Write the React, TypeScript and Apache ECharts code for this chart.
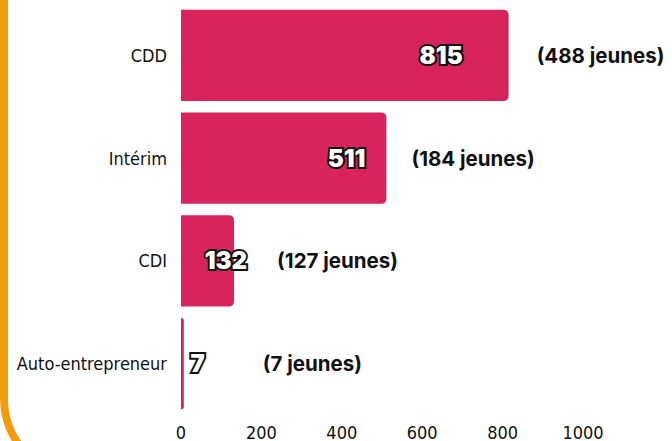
import React, { useEffect, useRef } from "react";
import * as echarts from "echarts";

const categories = ["CDD", "Intérim", "CDI", "Auto-entrepreneur"];
const contrats = [815, 511, 132, 7];
const jeunes = [488, 184, 127, 7];
const xTicks = [0, 200, 400, 600, 800, 1000];

// label offsets (style only)
const valueOffsets = [-41, -16, 18, 26];
const jeunesOffsets = [23, 20, 38, 74];

const condensed = '"Liberation Sans Narrow", "DejaVu Sans Condensed", "Roboto", sans-serif';

export default function App() {
  const ref = useRef<HTMLDivElement>(null);
  useEffect(() => {
    if (!ref.current) return;
    const chart = echarts.init(ref.current, undefined, { renderer: "svg" });
    chart.setOption({
      animation: false,
      backgroundColor: "#ffffff",
      graphic: [
        {
          type: "rect",
          silent: true,
          z: -10,
          shape: { x: 4, y: -100, width: 760, height: 578, r: 80 },
          style: { fill: "none", stroke: "#f39c0c", lineWidth: 8 },
        },
      ],
      grid: { left: 181, right: 89, top: 4, bottom: 23, containLabel: false },
      xAxis: {
        type: "value",
        min: xTicks[0],
        max: xTicks[xTicks.length - 1],
        interval: 200,
        axisLine: { show: false },
        axisTick: { show: false },
        splitLine: { show: false },
        axisLabel: {
          margin: 8,
          fontFamily: condensed,
          fontSize: 18,
          fontWeight: 500,
          color: "#111111",
          formatter: (v: number) => String(v),
        },
      },
      yAxis: {
        type: "category",
        data: categories,
        inverse: true,
        axisLine: { show: false },
        axisTick: { show: false },
        axisLabel: {
          margin: 14,
          fontFamily: condensed,
          fontSize: 18,
          fontWeight: 500,
          color: "#111111",
        },
      },
      series: [
        {
          type: "bar",
          barWidth: "89%",
          z: 2,
          data: contrats.map((v, i) => ({
            value: v,
            label: { offset: [valueOffsets[i], 0] },
          })),
          itemStyle: { color: "#d8235c", borderRadius: [0, 5, 5, 0] },
          label: {
            show: true,
            position: "insideRight",
            fontFamily: "Inter, sans-serif",
            fontWeight: 900,
            fontSize: 24,
            color: "#ffffff",
            textBorderColor: "#111111",
            textBorderWidth: 4,
          },
        },
        {
          type: "bar",
          barWidth: "89%",
          barGap: "-100%",
          z: 3,
          silent: true,
          data: contrats.map((v, i) => ({
            value: v,
            label: { offset: [jeunesOffsets[i], 0], formatter: `(${jeunes[i]} jeunes)` },
          })),
          itemStyle: { color: "rgba(0,0,0,0)" },
          label: {
            show: true,
            position: "right",
            fontFamily: "Inter, sans-serif",
            fontWeight: 700,
            fontSize: 20.5,
            color: "#111111",
          },
        },
      ],
    });
    return () => chart.dispose();
  }, []);
  return <div ref={ref} style={{ width: 672, height: 441, position: "fixed", left: 0, top: 0 }} />;
}
